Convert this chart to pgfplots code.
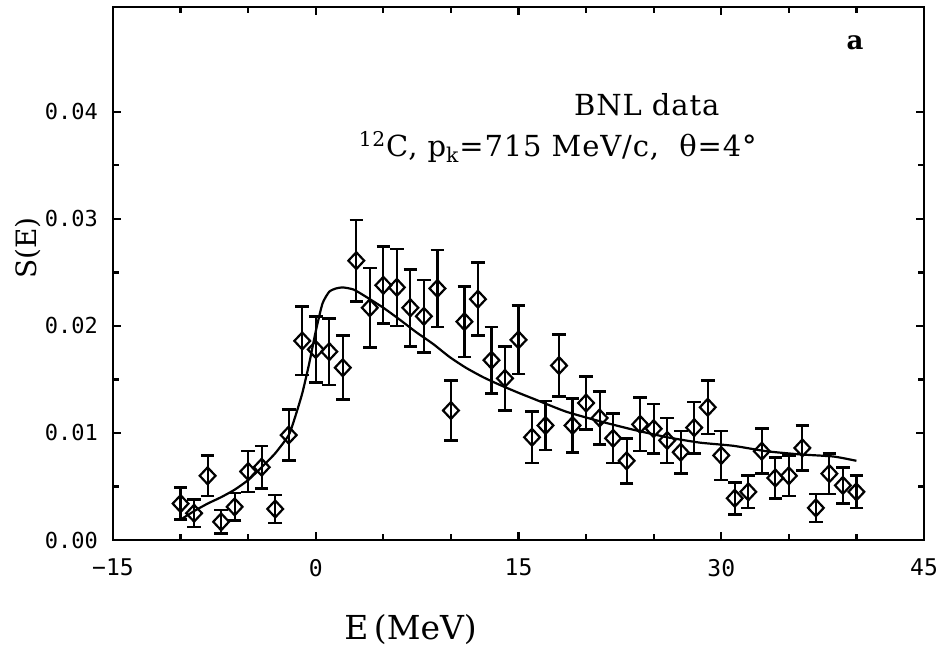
\documentclass[border=0pt]{standalone}
\usepackage{fontspec}
\setmainfont{DejaVu Serif}
\newfontfamily\ytickfont{DejaVu Sans Mono}
\newfontfamily\xtickfont{DejaVu Sans Mono}
\newfontfamily\annfont[LetterSpace=3]{DejaVu Serif}
\usepackage{pgfplots}
\usepackage{pgfplotstable}
\pgfplotsset{compat=1.18}

\pgfplotstableread{
x y ey
-10 0.0034 0.0015
-9 0.0025 0.0013
-8 0.0060 0.0019
-7 0.0017 0.0011
-6 0.0031 0.0013
-5 0.0064 0.0019
-4 0.0068 0.0020
-3 0.0029 0.0013
-2 0.0098 0.0024
-1 0.0186 0.0032
0 0.0178 0.0031
1 0.0176 0.0031
2 0.0161 0.0030
3 0.0261 0.0038
4 0.0217 0.0037
5 0.0238 0.0036
6 0.0236 0.0036
7 0.0217 0.0036
8 0.0209 0.0034
9 0.0235 0.0036
10 0.0121 0.0028
11 0.0204 0.0033
12 0.0225 0.0034
13 0.0168 0.0031
14 0.0151 0.0030
15 0.0187 0.0032
16 0.0096 0.0024
17 0.0107 0.0023
18 0.0163 0.0029
19 0.0107 0.0025
20 0.0128 0.0025
21 0.0114 0.0025
22 0.0095 0.0023
23 0.0074 0.0021
24 0.0108 0.0025
25 0.0104 0.0023
26 0.0093 0.0021
27 0.0082 0.0020
28 0.0105 0.0024
29 0.0124 0.0025
30 0.0079 0.0023
31 0.0039 0.0015
32 0.0045 0.0015
33 0.0083 0.0021
34 0.0058 0.0019
35 0.0060 0.0019
36 0.0086 0.0021
37 0.0030 0.0013
38 0.0062 0.0019
39 0.0051 0.0017
40 0.0045 0.0015
}\bnldata

\pgfplotstableread{
x y
-10 0.0019
-9 0.0027
-8 0.0034
-7 0.0040
-6 0.0047
-5 0.0056
-4 0.0068
-3 0.0081
-2 0.0098
-1.5 0.0116
-1 0.0137
-0.5 0.0164
0 0.0195
0.5 0.0221
1 0.0232
1.5 0.0235
2 0.0236
2.8 0.0234
3.75 0.0227
5 0.0217
6.2 0.0206
7.45 0.0194
8.7 0.0183
9.9 0.0171
11.1 0.0161
12.4 0.0152
13.6 0.0145
15.1 0.0137
16.1 0.0132
18.5 0.0120
21 0.0111
23.5 0.0103
26 0.0096
28.4 0.0091
30.9 0.0088
33.3 0.0083
35.8 0.0080
38.3 0.0078
40 0.0074
}\theory

\begin{document}
\begin{tikzpicture}
\useasboundingbox (-56.5pt,-53pt) rectangle (416pt,270pt);
\begin{axis}[
  scale only axis,
  width=405.5pt, height=266.5pt,
  xmin=-15, xmax=45, ymin=0, ymax=0.0498,
  axis line style={line width=1.3pt},
  xtick={-15,0,15,30,45},
  xticklabels={−15,0,15,30,45},
  ytick={0,0.01,0.02,0.03,0.04},
  yticklabels={0.00,0.01,0.02,0.03,0.04},
  minor x tick num=2,
  minor y tick num=1,
  tick align=inside,
  xtick pos=both, ytick pos=both,
  xticklabel pos=bottom, yticklabel pos=left,
  major tick length=4pt, minor tick length=3pt,
  every tick/.style={line width=1.1pt, black},
  xticklabel style={font=\xtickfont\fontsize{11.5}{12}\selectfont, yshift=-6pt},
  yticklabel style={font=\ytickfont\fontsize{11}{12}\selectfont, xshift=-4pt},
  xlabel={E\,(MeV)},
  ylabel={S(E)},
  every axis x label/.style={at={(axis description cs:0.367,-0.1876)}, anchor=base, font=\fontsize{16.5}{18}\selectfont},
  every axis y label/.style={at={(axis description cs:-0.1048,0.548)}, anchor=center, rotate=90, font=\fontsize{14}{16}\selectfont},
  clip=false,
]
\addplot[black, line width=1.1pt, smooth, tension=0.35, no marks] table[x=x, y=y] {\theory};
\addplot[black, only marks, mark=diamond, mark size=4.2pt,
  mark options={xscale=1.25, line width=1.1pt, fill=none},
  error bars/.cd, y dir=both, y explicit,
  error bar style={line width=1.1pt},
  error mark options={rotate=90, mark size=3.4pt, line width=1.3pt}]
  table[x=x, y=y, y error=ey] {\bnldata};
\node[anchor=base west, font=\annfont\fontsize{14.5}{16}\selectfont] at (axis cs:18.6,0.0397) {BNL data};
\node[anchor=base west, font=\annfont\fontsize{14.5}{16}\selectfont] at (axis cs:2.66,0.0358) {\textsuperscript{12}C, p\textsubscript{k}=715 MeV/c, \ θ=4°};
\node[anchor=base, font=\bfseries\fontsize{13}{15}\selectfont] at (axis cs:39.9,0.0458) {a};
\end{axis}
\end{tikzpicture}
\end{document}
